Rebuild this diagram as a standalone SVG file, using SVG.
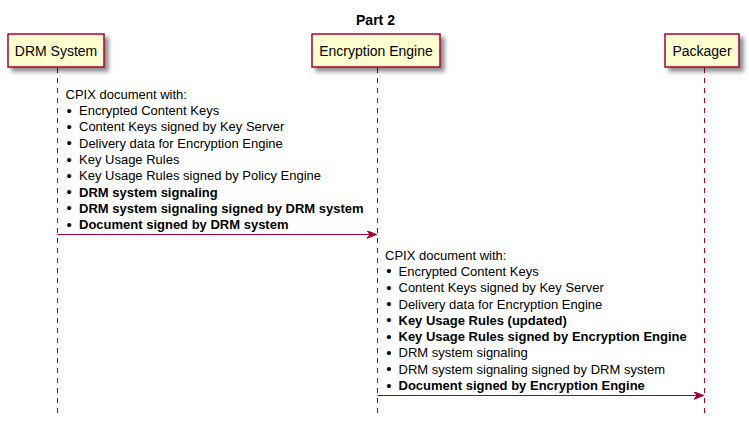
<svg xmlns="http://www.w3.org/2000/svg" width="749" height="424" viewBox="0 0 749 424">
<defs>
  <filter id="sh" x="-20%" y="-20%" width="150%" height="160%">
    <feGaussianBlur in="SourceAlpha" stdDeviation="2"/>
    <feOffset dx="4" dy="4" result="b"/>
    <feComponentTransfer><feFuncA type="linear" slope="0.45"/></feComponentTransfer>
    <feMerge><feMergeNode/><feMergeNode in="SourceGraphic"/></feMerge>
  </filter>
  <marker id="ah" viewBox="0 0 10 8" refX="10" refY="4" markerWidth="10" markerHeight="8" markerUnits="userSpaceOnUse" orient="auto">
    <polygon points="0,0 10,4 0,8 4,4" fill="#A80036" stroke="#A80036" stroke-width="1"/>
  </marker>
</defs>
<style>
  text { font-family: "Liberation Sans", Arial, sans-serif; font-size: 13px; fill: #000; }
  .b { font-weight: bold; }
  .bu { font-size: 15px; }
  .title { font-size: 14px; font-weight: bold; }
  .pn { font-size: 14px; }
  .box { fill: #FEFECE; stroke: #A80036; stroke-width: 1.5; }
  .life { stroke: #A80036; stroke-width: 1; stroke-dasharray: 5,5; fill: none; }
  .msg { stroke: #A80036; stroke-width: 1; fill: none; }
</style>
<rect width="749" height="424" fill="#fff"/>
<text class="title" x="375.5" y="25" text-anchor="middle">Part 2</text>

<g id="lifelines">
  <line class="life" x1="57.5" y1="68" x2="57.5" y2="413"/>
  <line class="life" x1="377.5" y1="68" x2="377.5" y2="413"/>
  <line class="life" x1="704.5" y1="68" x2="704.5" y2="413"/>
</g>

<g id="drm">
  <rect class="box" x="8" y="34" width="96" height="33" filter="url(#sh)"/>
  <text class="pn" x="56" y="56" text-anchor="middle">DRM System</text>
</g>
<g id="enc">
  <rect class="box" x="312" y="34" width="128" height="33" filter="url(#sh)"/>
  <text class="pn" x="376" y="56" text-anchor="middle">Encryption Engine</text>
</g>
<g id="pkg">
  <rect class="box" x="665" y="34" width="74" height="33" filter="url(#sh)"/>
  <text class="pn" x="702" y="56" text-anchor="middle">Packager</text>
</g>

<g id="connectors">
  <line class="msg" x1="57.5" y1="234.5" x2="376.5" y2="234.5" marker-end="url(#ah)"/>
  <line class="msg" x1="377.5" y1="395.5" x2="703.5" y2="395.5" marker-end="url(#ah)"/>
</g>

<g id="msg1">
  <text x="65.5" y="98.8">CPIX document with:</text>
  <text class="bu" x="66.6" y="115.6">&#8226;</text><text x="79" y="115.1">Encrypted Content Keys</text>
  <text class="bu" x="66.6" y="131.9">&#8226;</text><text x="79" y="131.4">Content Keys signed by Key Server</text>
  <text class="bu" x="66.6" y="148.2">&#8226;</text><text x="79" y="147.7">Delivery data for Encryption Engine</text>
  <text class="bu" x="66.6" y="164.5">&#8226;</text><text x="79" y="164">Key Usage Rules</text>
  <text class="bu" x="66.6" y="180.8">&#8226;</text><text x="79" y="180.3">Key Usage Rules signed by Policy Engine</text>
  <text class="bu" x="66.6" y="197.1">&#8226;</text><text x="79" y="196.6" class="b">DRM system signaling</text>
  <text class="bu" x="66.6" y="213.4">&#8226;</text><text x="79" y="212.9" class="b">DRM system signaling signed by DRM system</text>
  <text class="bu" x="66.6" y="229.7">&#8226;</text><text x="79" y="229.2" class="b">Document signed by DRM system</text>
</g>

<g id="msg2">
  <text x="385" y="259.6">CPIX document with:</text>
  <text class="bu" x="386.2" y="276.4">&#8226;</text><text x="398.5" y="275.9">Encrypted Content Keys</text>
  <text class="bu" x="386.2" y="292.7">&#8226;</text><text x="398.5" y="292.2">Content Keys signed by Key Server</text>
  <text class="bu" x="386.2" y="309">&#8226;</text><text x="398.5" y="308.5">Delivery data for Encryption Engine</text>
  <text class="bu" x="386.2" y="325.3">&#8226;</text><text x="398.5" y="324.8" class="b">Key Usage Rules (updated)</text>
  <text class="bu" x="386.2" y="341.6">&#8226;</text><text x="398.5" y="341.1" class="b">Key Usage Rules signed by Encryption Engine</text>
  <text class="bu" x="386.2" y="357.9">&#8226;</text><text x="398.5" y="357.4">DRM system signaling</text>
  <text class="bu" x="386.2" y="374.2">&#8226;</text><text x="398.5" y="373.7">DRM system signaling signed by DRM system</text>
  <text class="bu" x="386.2" y="390.5">&#8226;</text><text x="398.5" y="390" class="b">Document signed by Encryption Engine</text>
</g>
</svg>
